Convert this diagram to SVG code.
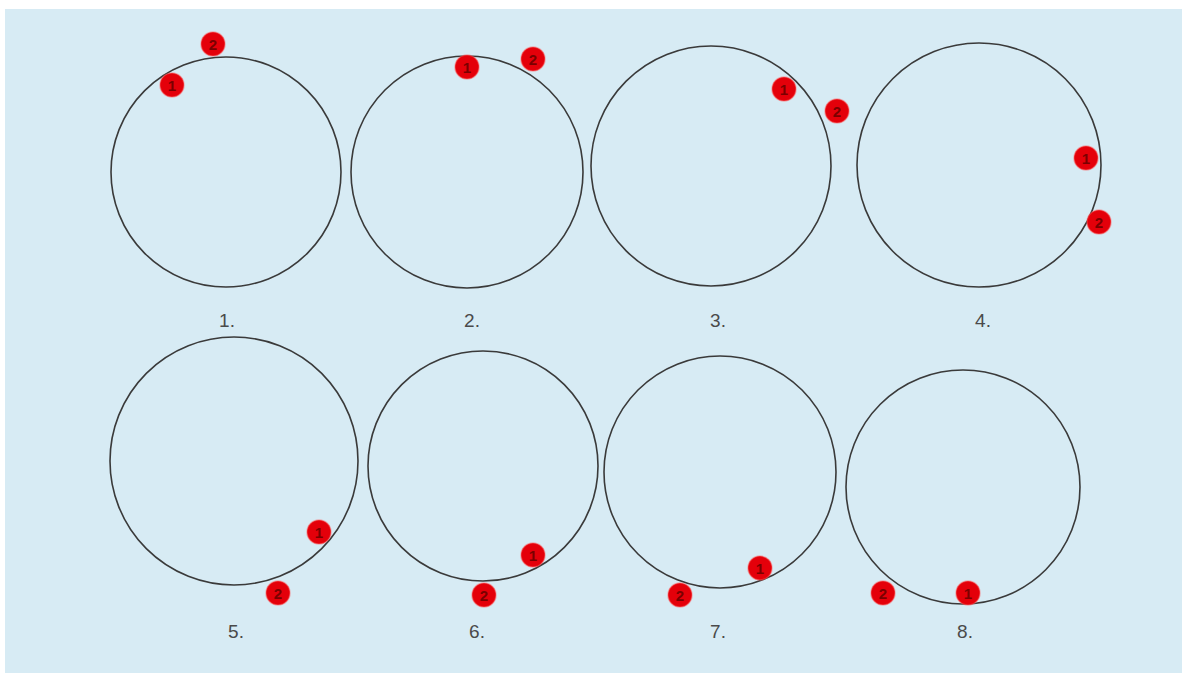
<svg xmlns="http://www.w3.org/2000/svg" width="1182" height="673" viewBox="0 0 1182 673">
<style>
.ring{fill:none;stroke:#3a3a3a;stroke-width:1.6}
.dot{fill:#e4000a;stroke:#ff5a5a;stroke-width:1.5;stroke-opacity:0.45}
.dn{font-family:"Liberation Sans",Arial,sans-serif;font-size:15px;font-weight:bold;fill:#7a0000;text-anchor:middle;dominant-baseline:central}
.lbl{font-family:"Liberation Sans",Arial,sans-serif;font-size:19px;fill:#4a4a4a;text-anchor:middle}
</style>
<rect width="1182" height="673" fill="#ffffff"/>
<rect x="5" y="9" width="1177" height="664" fill="#d7ebf4"/>
<g id="d1">
<circle class="ring" cx="226" cy="172" r="115"/>
<circle class="dot" cx="213" cy="44" r="12"/><text class="dn" x="213" y="44">2</text>
<circle class="dot" cx="172" cy="85" r="12"/><text class="dn" x="172" y="85">1</text>
<text class="lbl" x="227" y="327">1.</text>
</g>
<g id="d2">
<circle class="ring" cx="467" cy="172" r="116"/>
<circle class="dot" cx="467" cy="67" r="12"/><text class="dn" x="467" y="67">1</text>
<circle class="dot" cx="533" cy="59" r="12"/><text class="dn" x="533" y="59">2</text>
<text class="lbl" x="472" y="327">2.</text>
</g>
<g id="d3">
<circle class="ring" cx="711" cy="166" r="120"/>
<circle class="dot" cx="784" cy="89" r="12"/><text class="dn" x="784" y="89">1</text>
<circle class="dot" cx="837" cy="111" r="12"/><text class="dn" x="837" y="111">2</text>
<text class="lbl" x="718" y="327">3.</text>
</g>
<g id="d4">
<circle class="ring" cx="979" cy="165" r="122"/>
<circle class="dot" cx="1086" cy="158" r="12"/><text class="dn" x="1086" y="158">1</text>
<circle class="dot" cx="1099" cy="222" r="12"/><text class="dn" x="1099" y="222">2</text>
<text class="lbl" x="983" y="327">4.</text>
</g>
<g id="d5">
<circle class="ring" cx="234" cy="461" r="124"/>
<circle class="dot" cx="319" cy="532" r="12"/><text class="dn" x="319" y="532">1</text>
<circle class="dot" cx="278" cy="593" r="12"/><text class="dn" x="278" y="593">2</text>
<text class="lbl" x="236" y="638">5.</text>
</g>
<g id="d6">
<circle class="ring" cx="483" cy="466" r="115"/>
<circle class="dot" cx="533" cy="555" r="12"/><text class="dn" x="533" y="555">1</text>
<circle class="dot" cx="484" cy="595" r="12"/><text class="dn" x="484" y="595">2</text>
<text class="lbl" x="477" y="638">6.</text>
</g>
<g id="d7">
<circle class="ring" cx="720" cy="472" r="116"/>
<circle class="dot" cx="760" cy="568" r="12"/><text class="dn" x="760" y="568">1</text>
<circle class="dot" cx="680" cy="595" r="12"/><text class="dn" x="680" y="595">2</text>
<text class="lbl" x="718" y="638">7.</text>
</g>
<g id="d8">
<circle class="ring" cx="963" cy="487" r="117"/>
<circle class="dot" cx="883" cy="593" r="12"/><text class="dn" x="883" y="593">2</text>
<circle class="dot" cx="968" cy="593" r="12"/><text class="dn" x="968" y="593">1</text>
<text class="lbl" x="965" y="638">8.</text>
</g>
</svg>
